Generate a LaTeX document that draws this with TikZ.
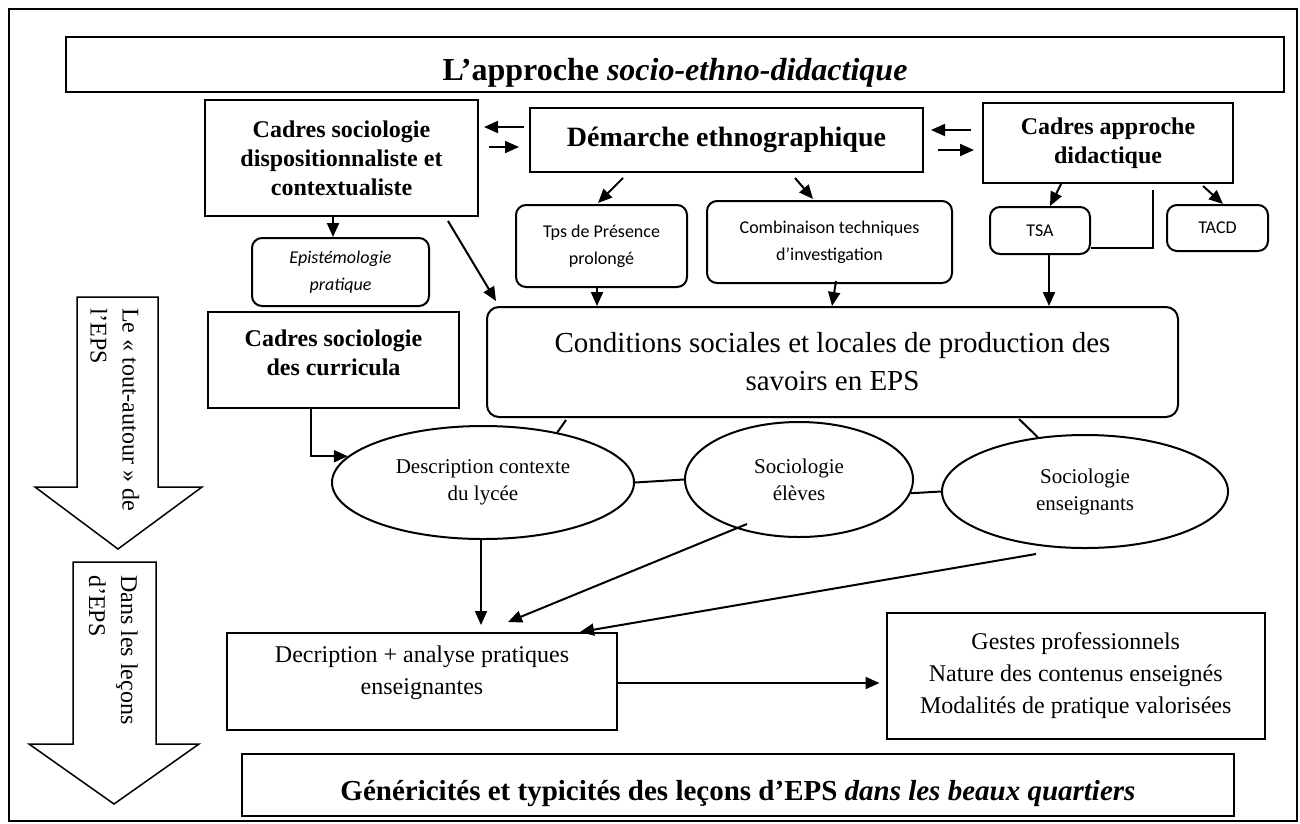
\documentclass[tikz,border=0pt]{standalone}
\usepackage{fontspec}
\setmainfont{Liberation Serif}
\newfontfamily\calibri{Carlito}
\usetikzlibrary{shapes.geometric, arrows.meta, calc}
\tikzset{
>={Triangle[length=14pt, width=12pt]}, % filled arrow heads
every edge/.style={draw, line width=2pt}, % connectors
lien/.style={line width=2pt}, % plain links, no head
titre/.style={draw, line width=2pt, inner sep=0pt, text height=31pt, text depth=0pt, font=\bfseries\fontsize{32}{38}\selectfont},
cadre/.style={draw, line width=2pt, align=center, inner sep=2pt, font=\bfseries\fontsize{24}{29}\selectfont},
petit/.style={draw, line width=2pt, rounded corners=10pt, align=center, inner sep=2pt, font=\calibri\fontsize{18}{27}\selectfont},
boite/.style={draw, line width=2pt, align=center, inner sep=2pt, font=\fontsize{24}{32}\selectfont},
bulle/.style={ellipse, draw, line width=2pt, align=center, inner sep=0pt, font=\fontsize{21}{27}\selectfont},
cote/.style={rotate=-90, anchor=north west, align=left, inner sep=0pt, font=\fontsize{24}{32}\selectfont},
creux/.style={draw, line width=1.5pt, line join=miter}, % big hollow arrows
}
\begin{document}
\begin{tikzpicture}[x=1pt, y=-1pt]
        \useasboundingbox (0,0) rectangle (1300,823);
        \draw[line width=2.5pt] (9,9) rectangle (1297,821);

        % titles
        \node[titre, minimum width=1218pt, minimum height=55pt] (approche) at (675,64.5) {L’approche \textit{socio-ethno-didactique}};
        \node[titre, font=\bfseries\fontsize{29}{35}\selectfont, minimum width=992pt, minimum height=62pt] (genericite) at (738,785) {Généricités et typicités des leçons d’EPS \textit{dans les beaux quartiers}};

        % frameworks
        \node[cadre, minimum width=273pt, minimum height=116pt] (dispo) at (341.5,158) {Cadres sociologie\\dispositionnaliste et\\contextualiste};
        \node[cadre, font=\bfseries\fontsize{28}{34}\selectfont, minimum width=393pt, minimum height=64pt] (ethno) at (726.5,140) {Démarche ethnographique};
        \node[cadre, minimum width=250pt, minimum height=80pt] (didac) at (1108,143) {Cadres approche\\didactique};
        \node[cadre, minimum width=251pt, minimum height=96pt] (curri) at (333.5,360) {Cadres sociologie\\des curricula\\[-14pt]\mbox{}};

        \node[petit, font=\calibri\itshape\fontsize{18}{27}\selectfont, minimum width=177pt, minimum height=68pt] (episte) at (340.5,272) {Epistémologie\\pratique};
        \node[petit, minimum width=171pt, minimum height=82pt] (presence) at (601.5,246) {Tps de Présence\\prolongé};
        \node[petit, minimum width=245pt, minimum height=82pt] (techniques) at (829.5,242) {Combinaison techniques\\d’investigation};
        \node[petit, minimum width=100pt, minimum height=47pt] (tsa) at (1040,230.5) {TSA};
        \node[petit, minimum width=101pt, minimum height=46pt] (tacd) at (1217.5,228) {TACD};

        \node[petit, rounded corners=12pt, font=\fontsize{29}{38}\selectfont, minimum width=691pt, minimum height=110pt] (conditions) at (832.5,362) {Conditions sociales et locales de production des\\savoirs en EPS};

        % ovals
        \node[bulle, minimum width=302pt, minimum height=113pt] (contexte) at (483,482.5) {Description contexte\\du lycée};
        \node[bulle, minimum width=228pt, minimum height=115pt] (eleves) at (799,479.5) {Sociologie\\élèves};
        \node[bulle, minimum width=286pt, minimum height=113pt] (enseignants) at (1085,491.5) {Sociologie\\enseignants};

        \node[boite, minimum width=390pt, minimum height=97pt] (pratiques) at (422,681.5) {Decription + analyse pratiques\\enseignantes\\[-10pt]\mbox{}};
        \node[boite, minimum width=378.5pt, minimum height=126pt] (gestes) at (1075.75,676) {Gestes professionnels\\Nature des contenus enseignés\\Modalités de pratique valorisées};

        % side arrows
        \draw[creux] (77,297) -- (158,297) -- (158,487) -- (202,487) -- (118,549) -- (35,487) -- (77,487) -- cycle;
        \draw[creux] (73,562) -- (156,562) -- (156,744) -- (199,744) -- (114,804) -- (29,744) -- (73,744) -- cycle;
        \node[cote] (autour) at (139.5,308) {Le « tout-autour » de\\l’EPS};
        \node[cote] (lecons) at (138,575) {Dans les leçons\\d’EPS};

        \path[->] ([yshift=13pt]ethno.west) edge[shorten <=5pt, shorten >=5pt] ([yshift=13pt]ethno.west -| dispo.east)
        ([yshift=-7pt]ethno.west -| dispo.east) edge[shorten <=10pt, shorten >=10pt] ([yshift=-7pt]ethno.west)
        ([yshift=10pt]ethno.east -| didac.west) edge[shorten <=11pt, shorten >=7pt] ([yshift=10pt]ethno.east)
        ([yshift=-10pt]ethno.east) edge[shorten <=14pt, shorten >=8pt] ([yshift=-10pt]ethno.east -| didac.west)
        ([xshift=-8.5pt]dispo.south) edge ([xshift=-8.5pt]dispo.south |- episte.north)
        ([shift={(-103.5,5)}]ethno.south) edge ([shift={(-3.5,-1)}]presence.north)
        ([shift={(68.5,5)}]ethno.south) edge ([shift={(-16.5,-1)}]techniques.north)
        ([shift={(-31,4)}]dispo.south east) edge ([shift={(10,-5)}]conditions.north west)
        ([xshift=-4.5pt]presence.south) edge ([xshift=-4.5pt]presence.south |- conditions.north)
        ([shift={(6.5,-3)}]techniques.south) edge ([xshift=2.5pt]techniques.south |- conditions.north)
        ([xshift=-47pt]didac.south) edge ([xshift=10pt]tsa.north)
        ([shift={(95,2)}]didac.south) edge ([xshift=5.5pt]tacd.north)
        ([xshift=9pt]tsa.south) edge ([xshift=9pt]tsa.south |- conditions.north)
        ([xshift=-2pt]contexte.south) edge[shorten >=7pt] ([xshift=-2pt]contexte.south |- pratiques.north)
        ($(eleves.center)+(-52,44.5)$) edge ([shift={(86,-10)}]pratiques.north)
        ([shift={(-49,5)}]enseignants.south) edge ([xshift=158pt]pratiques.north)
        ([yshift=-1.5pt]pratiques.east) edge[shorten >=6pt] ([yshift=-1.5pt]pratiques.east -| gestes.west);
        \draw[lien, ->] ([xshift=-22.5pt]curri.south) |- (contexte.169);

        \draw[lien] ([yshift=-17.5pt]tsa.east) -| ([shift={(45,6)}]didac.south);
        \draw[lien] ([shift={(80,2)}]conditions.south west) -- (contexte.34);
        \draw[lien] (contexte.east) -- (eleves.west);
        \draw[lien] (eleves.-7) -- (enseignants.west);
        \draw[lien] ([shift={(-160,1)}]conditions.south east) -- (enseignants.131);
      \end{tikzpicture}
\end{document}
